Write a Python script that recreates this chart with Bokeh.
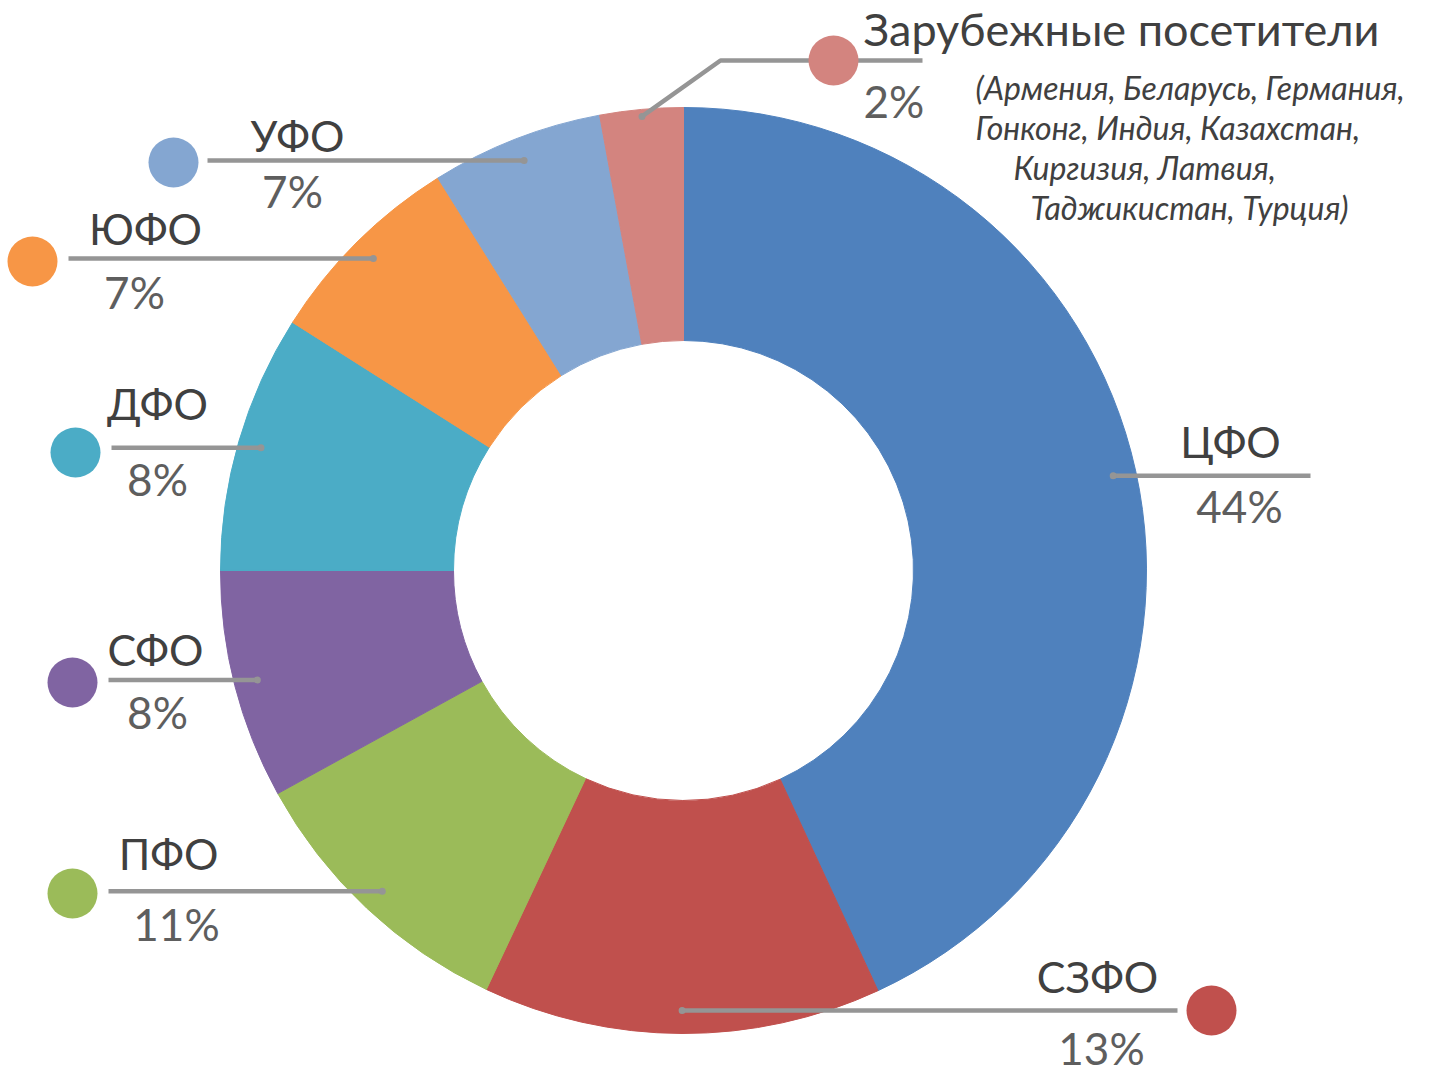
import numpy as np
from bokeh.plotting import figure
from bokeh.models import Range1d
from bokeh.embed import file_html
from bokeh.resources import INLINE
from bokeh.core.properties import value

# ---------------- data ----------------
regions = ["ЦФО", "СЗФО", "ПФО", "СФО", "ДФО", "ЮФО", "УФО", "Зарубежные посетители"]
shares = [43.1, 13.9, 10.0, 8.0, 9.0, 7.1, 6.0, 2.9]
pct_labels = ["44%", "13%", "11%", "8%", "8%", "7%", "7%", "2%"]
colors = ["#4F81BD", "#C0504D", "#9BBB59", "#8064A2", "#4BACC6", "#F79646", "#84A6D1", "#D3847F"]
foreign_note = ["(Армения, Беларусь, Германия,",
                "Гонконг, Индия, Казахстан,",
                "Киргизия, Латвия,",
                "Таджикистан, Турция)"]

# ---------------- layout (image pixel coords, y down) ----------------
W, H = 1429, 1075
CX, CY = 683, 570
R_IN, R_OUT = 230, 463
leader_r = [440, 440, 440, 440, 440, 440, 440, 456]
leader_end_x = [1310, 1177, 108, 108, 111, 68, 207, None]
marker_xy = [None, (1211, 1010), (72, 893), (72, 682), (75, 452), (32, 261), (173, 162), (833, 60)]
name_xy = [(1230, 458), (1097, 993), (168, 870), (155, 666), (157, 420), (145, 245), (297, 152), (863, 45)]
pct_xy = [(1239, 522), (1101, 1064), (176, 940), (157, 728), (157, 495), (134, 308), (292, 207), (863, 117)]
note_xy = [(975, 104), (975, 144), (1013, 184), (1030, 224)]
elbow = [(720, 60), (922, 60)]
TEXT_DY = 17  # renderer places alphabetic baseline lower; compensate

LINE_C = "#959595"
NAME_C = "#404040"
PCT_C = "#5e5e5e"


def fy(y):
    return H - y


def ty(y):
    return H - (y - TEXT_DY)


p = figure(width=W, height=H, x_range=Range1d(0, W), y_range=Range1d(0, H),
           output_backend="svg", toolbar_location=None, min_border=0,
           outline_line_color=None, background_fill_color="white")
p.axis.visible = False
p.grid.visible = False

fr = np.array(shares) / sum(shares)
cum = np.concatenate([[0], np.cumsum(fr)])
start = np.pi / 2 - 2 * np.pi * cum[:-1]
end = np.pi / 2 - 2 * np.pi * cum[1:]

p.annular_wedge(x=[CX] * len(shares), y=[fy(CY)] * len(shares),
                inner_radius=R_IN, outer_radius=R_OUT,
                start_angle=list(start), end_angle=list(end), direction="clock",
                fill_color=colors, line_color=colors, line_width=1)

mid = 2 * np.pi * (cum[:-1] + cum[1:]) / 2  # clockwise from top
for i in range(len(shares)):
    sx = CX + leader_r[i] * np.sin(mid[i])
    sy = CY - leader_r[i] * np.cos(mid[i])
    if leader_end_x[i] is not None:
        xs = [sx, leader_end_x[i]]
        ys = [fy(sy), fy(sy)]
    else:
        xs = [sx] + [e[0] for e in elbow]
        ys = [fy(sy)] + [fy(e[1]) for e in elbow]
    p.line(xs, ys, line_color=LINE_C, line_width=4.5)
    p.scatter([sx], [fy(sy)], size=7, marker="circle", fill_color=LINE_C, line_color=None)
    if marker_xy[i] is not None:
        mx, my = marker_xy[i]
        p.scatter([mx], [fy(my)], size=50, marker="circle", fill_color=colors[i], line_color=None)

    align = "left" if i == 7 else "center"
    nx, ny = name_xy[i]
    p.text([nx], [ty(ny)], text=[regions[i]], text_font=value("Lato"),
           text_font_size="45px" if i == 7 else "43px",
           text_color=NAME_C, text_align=align, text_baseline="alphabetic")
    px_, py_ = pct_xy[i]
    p.text([px_], [ty(py_)], text=[pct_labels[i]], text_font=value("Lato"), text_font_size="44px",
           text_color=PCT_C, text_align=align, text_baseline="alphabetic")

for (nx, ny), line in zip(note_xy, foreign_note):
    p.text([nx], [ty(ny)], text=[line], text_font=value("Lato"), text_font_size="32px",
           text_font_style="italic", text_color=NAME_C, text_align="left", text_baseline="alphabetic")

open("out.html", "w").write(file_html(p, INLINE))
